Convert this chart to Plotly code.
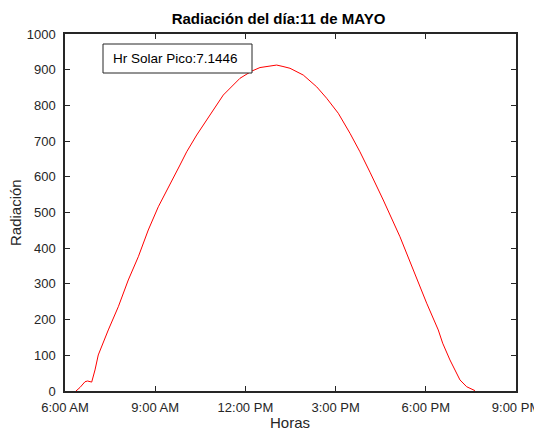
import plotly.graph_objects as go

# hours (decimal, 24h) and radiation values
horas = [6.366, 6.50, 6.665, 6.75, 6.888, 6.998, 7.107, 7.274, 7.440, 7.773, 8.105, 8.438,
         8.770, 9.103, 9.548, 9.824, 10.047, 10.380, 10.822, 11.264, 11.820, 12.209,
         12.485, 12.75, 13.040, 13.25, 13.483, 13.925, 14.371, 14.703, 15.089, 15.478,
         15.810, 16.143, 16.585, 17.141, 17.583, 18.029, 18.414, 18.561, 18.803, 19.136,
         19.359, 19.635]
radiacion = [0, 10, 26, 28, 25, 59, 101, 138, 171, 236, 311, 376,
             451, 516, 591, 633, 670, 717, 773, 829, 876, 896,
             906, 909, 913, 909, 904, 885, 852, 820, 778, 722,
             670, 613, 535, 432, 339, 246, 171, 134, 87, 31,
             12, 1]

x_tickvals = [6, 9, 12, 15, 18, 21]
x_ticktext = ["6:00 AM", "9:00 AM", "12:00 PM", "3:00 PM", "6:00 PM", "9:00 PM"]
y_tickvals = [0, 100, 200, 300, 400, 500, 600, 700, 800, 900, 1000]

titulo = "Radiación del día:11 de MAYO"
nota = "Hr Solar Pico:7.1446"
x_titulo = "Horas"
y_titulo = "Radiación"

axcol = "#262626"
font = "Liberation Sans, Arial, Helvetica, sans-serif"

# page body has an 8px margin, so the figure is drawn 8px in from the top-left
OFF = 8
W, H = 542 - OFF, 432 - OFF
# plot area in screen pixels
PX0, PX1, PY0, PY1 = 65, 516, 34, 391
pw, ph = PX1 - PX0, PY1 - PY0


def sx(x):
    return (x - PX0) / pw


def sy(y):
    return (PY1 - y) / ph


fig = go.Figure()
fig.add_trace(go.Scatter(x=horas, y=radiacion, mode="lines",
                         line=dict(color="#FF0000", width=1), showlegend=False))

axis_common = dict(showline=True, linecolor=axcol, linewidth=1.5, mirror="ticks",
                   ticks="inside", ticklen=5, tickwidth=1.2, tickcolor=axcol,
                   showgrid=False, zeroline=False, automargin=False,
                   tickfont=dict(family=font, size=13, color=axcol))

fig.update_xaxes(range=[6, 21], tickvals=x_tickvals, ticktext=x_ticktext,
                 ticklabelstandoff=4, **axis_common)
fig.update_yaxes(range=[0, 1000], tickvals=y_tickvals,
                 ticklabelstandoff=5, **axis_common)

# axis titles
fig.add_annotation(xref="paper", yref="paper", x=sx(290), y=sy(422.5),
                   xanchor="center", yanchor="middle", showarrow=False, text=x_titulo,
                   font=dict(family=font, size=15, color=axcol))
fig.add_annotation(xref="paper", yref="paper", x=sx(15), y=sy(213),
                   xanchor="center", yanchor="middle", showarrow=False, text=y_titulo,
                   textangle=-90, font=dict(family=font, size=15, color=axcol))

# peak-hour note box
fig.add_shape(type="rect", xref="paper", yref="paper",
              x0=sx(103), x1=sx(252), y0=sy(73), y1=sy(44),
              line=dict(color=axcol, width=1), fillcolor="white", layer="above")
fig.add_annotation(xref="paper", yref="paper", x=sx(111), y=sy(58.5),
                   xanchor="left", yanchor="middle", showarrow=False, text=nota,
                   font=dict(family=font, size=13.5, color="#000000"))

fig.update_layout(
    width=W, height=H,
    margin=dict(l=PX0 - OFF, r=542 - PX1, t=PY0 - OFF, b=432 - PY1),
    paper_bgcolor="white", plot_bgcolor="white",
    title=dict(text="<b>" + titulo + "</b>", x=(278.5 - OFF) / W, xanchor="center",
               y=1 - (19 - OFF) / H, yanchor="middle",
               font=dict(family=font, size=15, color="#000000")),
)

fig.write_html("out.html")
